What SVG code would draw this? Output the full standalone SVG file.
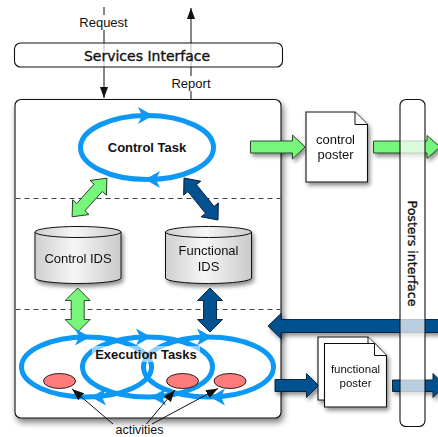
<svg xmlns="http://www.w3.org/2000/svg" width="438" height="437" viewBox="0 0 438 437">
  <defs>
    <style>
      .lbl { font-family: "Liberation Sans", Arial, sans-serif; fill: #111; }
      .title { font-family: "DejaVu Sans", "Liberation Sans", sans-serif; fill: #111; stroke: #111; stroke-width: 0.35; }
      .bold { font-weight: bold; }
      .loop { fill: none; stroke: #0C98F5; stroke-width: 5; }
      .loophead { fill: #0C98F5; }
      .green { fill: #76F67A; stroke: #1E3A1E; stroke-width: 0.9; }
      .navy { fill: #045190; stroke: #061A33; stroke-width: 0.9; }
      .outline { fill: #fff; stroke: #111; stroke-width: 1.1; }
      .glass { fill: #fff; fill-opacity: 0.72; stroke: #111; stroke-width: 1.1; }
      .dash { stroke: #444; stroke-width: 1; stroke-dasharray: 5 4; fill: none; }
      .act { fill: #FF7C7B; stroke: #111; stroke-width: 0.9; }
      .thin { stroke: #111; stroke-width: 1; fill: none; }
    </style>
    <filter id="shadow" x="-20%" y="-20%" width="140%" height="140%">
      <feDropShadow dx="2" dy="3" stdDeviation="2.2" flood-color="#000" flood-opacity="0.45"/>
    </filter>
    <filter id="bigshadow" x="-10%" y="-10%" width="125%" height="125%">
      <feDropShadow dx="2" dy="4" stdDeviation="3" flood-color="#000" flood-opacity="0.5"/>
    </filter>
    <linearGradient id="drum" x1="0" y1="0" x2="1" y2="0">
      <stop offset="0" stop-color="#cfcfcf"/>
      <stop offset="0.45" stop-color="#f6f6f6"/>
      <stop offset="1" stop-color="#cacaca"/>
    </linearGradient>
    <!-- notched head riding on the task loops, tip at the origin, pointing +x -->
    <path id="loopHead" class="loophead" d="M0,0 L-15,-8.5 L-11,0 L-15,8.5 Z"/>
    <marker id="tipBlack" markerWidth="11" markerHeight="15" refX="15" refY="5.5" orient="auto" markerUnits="userSpaceOnUse" viewBox="0 0 15 11">
      <path d="M0,0 L15,5.5 L0,11 Z" fill="#111"/>
    </marker>
    <marker id="tipSmall" markerWidth="12" markerHeight="9" refX="12" refY="4.5" orient="auto" markerUnits="userSpaceOnUse" viewBox="0 0 12 9">
      <path d="M0,0 L12,4.5 L0,9 Z" fill="#111"/>
    </marker>
  </defs>

  <!-- request / report lines run beneath the services bar -->
  <g id="connectors-services">
    <line class="thin" x1="104" y1="7" x2="104" y2="98" stroke-width="1.8" marker-end="url(#tipBlack)"/>
    <line class="thin" x1="191" y1="99" x2="191" y2="8" stroke-width="1.8" marker-end="url(#tipBlack)"/>
  </g>

  <g id="services-interface">
    <rect class="glass" x="14.5" y="43" width="268" height="24" rx="6"/>
    <text class="title" x="147" y="61" font-size="14" text-anchor="middle">Services Interface</text>
  </g>

  <g id="request-label">
    <rect x="78" y="15" width="52" height="15" fill="#fff"/>
    <text class="lbl" x="103.5" y="27" font-size="13" text-anchor="middle">Request</text>
  </g>
  <g id="report-label">
    <rect x="170" y="76" width="42" height="15" fill="#fff"/>
    <text class="lbl" x="191" y="88" font-size="13" text-anchor="middle">Report</text>
  </g>

  <!-- main controller frame -->
  <g id="controller">
    <rect class="outline" x="15" y="99.5" width="266" height="318.5" rx="6" filter="url(#bigshadow)"/>
    <line class="dash" x1="15.5" y1="198.5" x2="280.5" y2="198.5"/>
    <line class="dash" x1="15.5" y1="309.5" x2="280.5" y2="309.5"/>
  </g>

  <g id="control-task">
    <ellipse class="loop" cx="147" cy="147.5" rx="66.5" ry="32"/>
    <use href="#loopHead" transform="translate(153,115.5)"/>
    <use href="#loopHead" transform="translate(145,179.5) scale(-1,1)"/>
    <text class="lbl bold" x="147" y="151.5" font-size="13" text-anchor="middle">Control Task</text>
  </g>

  <g id="connectors">
    <!-- control task <-> IDS -->
    <path class="green" transform="translate(89.5,197.5) rotate(-48)" d="M-26,0 L-13,-11 L-13,-5.5 L13,-5.5 L13,-11 L26,0 L13,11 L13,5.5 L-13,5.5 L-13,11 Z"/>
    <path class="navy" transform="translate(201,199) rotate(51)" d="M-27,0 L-14,-11 L-14,-5.5 L14,-5.5 L14,-11 L27,0 L14,11 L14,5.5 L-14,5.5 L-14,11 Z"/>
    <!-- IDS <-> execution tasks -->
    <path class="green" transform="translate(77.7,310) rotate(90)" d="M-22,0 L-9.5,-12.5 L-9.5,-6.5 L9.5,-6.5 L9.5,-12.5 L22,0 L9.5,12.5 L9.5,6.5 L-9.5,6.5 L-9.5,12.5 Z"/>
    <path class="navy" transform="translate(210,310) rotate(90)" d="M-22,0 L-9.5,-12.5 L-9.5,-6.5 L9.5,-6.5 L9.5,-12.5 L22,0 L9.5,12.5 L9.5,6.5 L-9.5,6.5 L-9.5,12.5 Z"/>
    <!-- posters flow -->
    <path class="green" filter="url(#shadow)" d="M250.5,141 H292.5 V135 L305,147 L292.5,159 V153 H250.5 Z"/>
    <path class="green" filter="url(#shadow)" d="M373.5,141 H427 V135.5 L440,147 L427,158.5 V153 H373.5 Z"/>
    <path class="navy" filter="url(#shadow)" d="M442,319.5 H281 V313.5 L268,326 L281,338.5 V332.5 H442 Z"/>
    <path class="navy" filter="url(#shadow)" d="M275,379.5 H306.5 V373.5 L318.5,385.5 L306.5,397.5 V391.5 H275 Z"/>
    <path class="navy" filter="url(#shadow)" d="M392.5,380 H433 V373.5 L445,385.5 L433,397.5 V391.5 H392.5 Z"/>
  </g>

  <g id="control-ids" filter="url(#shadow)">
    <path d="M35,232 A43,5.5 0 0 1 121,232 V278 A43,5.5 0 0 1 35,278 Z" fill="url(#drum)" stroke="#111" stroke-width="1"/>
    <path d="M35,232 A43,5.5 0 0 0 121,232" fill="none" stroke="#111" stroke-width="1"/>
    <text class="lbl" x="78" y="263" font-size="13" text-anchor="middle">Control IDS</text>
  </g>

  <g id="functional-ids" filter="url(#shadow)">
    <path d="M165.5,232 A43,5.5 0 0 1 251.5,232 V278 A43,5.5 0 0 1 165.5,278 Z" fill="url(#drum)" stroke="#111" stroke-width="1"/>
    <path d="M165.5,232 A43,5.5 0 0 0 251.5,232" fill="none" stroke="#111" stroke-width="1"/>
    <text class="lbl" x="208.5" y="255" font-size="13" text-anchor="middle">Functional</text>
    <text class="lbl" x="208.5" y="270.5" font-size="13" text-anchor="middle">IDS</text>
  </g>

  <g id="execution-tasks">
    <ellipse class="loop" cx="86.5" cy="367" rx="65" ry="30"/>
    <ellipse class="loop" cx="147.5" cy="367" rx="65" ry="30"/>
    <ellipse class="loop" cx="208.5" cy="367" rx="65" ry="30"/>
    <use href="#loopHead" transform="translate(90,337)"/>
    <use href="#loopHead" transform="translate(151,337)"/>
    <use href="#loopHead" transform="translate(212,337)"/>
    <use href="#loopHead" transform="translate(91,397) scale(-1,1)"/>
    <use href="#loopHead" transform="translate(151,397) scale(-1,1)"/>
    <use href="#loopHead" transform="translate(210,397) scale(-1,1)"/>
    <rect x="92" y="346" width="108" height="16" fill="#fff" fill-opacity="0.55"/>
    <text class="lbl bold" x="146" y="358.5" font-size="13" text-anchor="middle">Execution Tasks</text>
    <ellipse class="act" cx="59.5" cy="381" rx="16" ry="7.5"/>
    <ellipse class="act" cx="182.5" cy="381" rx="16" ry="7.5"/>
    <ellipse class="act" cx="230" cy="381" rx="16" ry="7.5"/>
  </g>

  <g id="activities">
    <line class="thin" x1="113" y1="424" x2="72" y2="389" marker-end="url(#tipSmall)"/>
    <line class="thin" x1="146.5" y1="424" x2="175" y2="390" marker-end="url(#tipSmall)"/>
    <line class="thin" x1="152" y1="424" x2="218" y2="388.5" marker-end="url(#tipSmall)"/>
    <text class="lbl" x="139.5" y="433.5" font-size="12.5" text-anchor="middle">activities</text>
  </g>

  <g id="control-poster" filter="url(#shadow)">
    <path class="outline" d="M306,112 H355 L367.5,124.5 V182 H306 Z"/>
    <path d="M355,112 V124.5 H367.5" fill="#fff" stroke="#111" stroke-width="1"/>
    <text class="lbl" x="335.5" y="143.5" font-size="13" text-anchor="middle">control</text>
    <text class="lbl" x="335.5" y="159" font-size="13" text-anchor="middle">poster</text>
  </g>

  <g id="functional-poster" filter="url(#shadow)">
    <path class="outline" d="M318,337 H368 L380,349 V400 H318 Z"/>
    <path d="M368,337 V349 H380" fill="#fff" stroke="#111" stroke-width="1"/>
    <path class="outline" d="M324.5,343.5 H374.5 L386.5,355.5 V407 H324.5 Z"/>
    <path d="M374.5,343.5 V355.5 H386.5" fill="#fff" stroke="#111" stroke-width="1"/>
    <text class="lbl" x="355.5" y="372.5" font-size="11.5" text-anchor="middle">functional</text>
    <text class="lbl" x="355.5" y="387" font-size="11.5" text-anchor="middle">poster</text>
  </g>

  <g id="posters-interface">
    <rect class="glass" x="400" y="99.5" width="25" height="327" rx="6"/>
    <text class="title" transform="translate(408,253.5) rotate(90)" font-size="12.6" text-anchor="middle">Posters interface</text>
  </g>
</svg>
